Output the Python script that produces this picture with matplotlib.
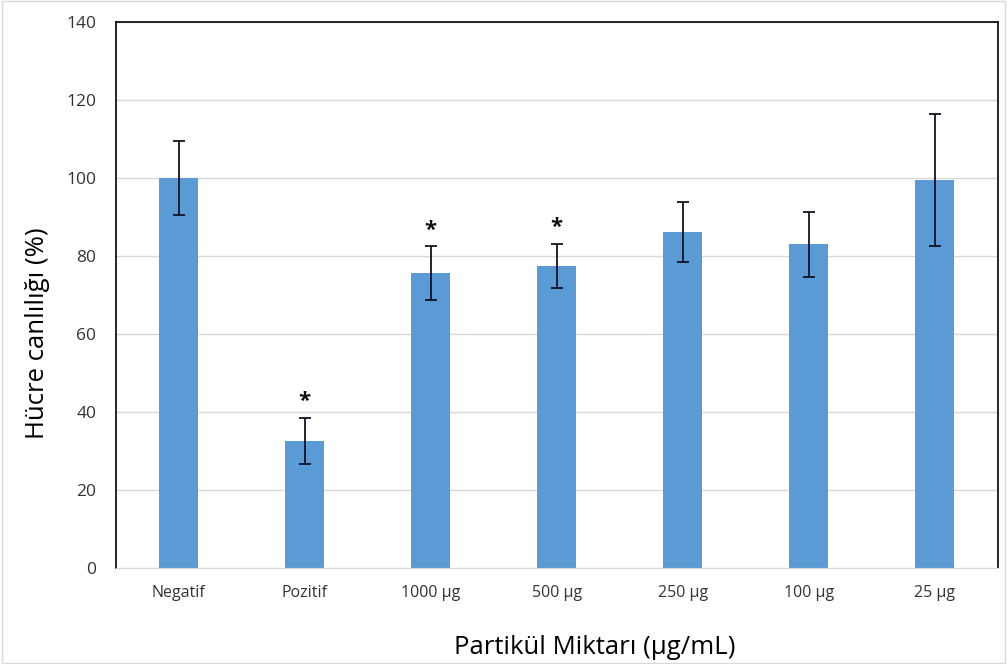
import matplotlib
matplotlib.use("Agg")
import matplotlib.pyplot as plt
from matplotlib.patches import Rectangle

categories = ["Negatif", "Pozitif", "1000 µg", "500 µg", "250 µg", "100 µg", "25 µg"]
viability = [100.0, 32.6, 75.6, 77.4, 86.1, 83.0, 99.5]
errors = [9.4, 5.9, 6.9, 5.7, 7.7, 8.4, 16.9]
significant = [False, True, True, True, False, False, False]

plt.rcParams["font.family"] = ["Open Sans", "DejaVu Sans"]

fig = plt.figure(figsize=(10.07, 6.64), dpi=100)
ax = fig.add_axes([0.115, 0.1446, 0.876, 0.822])

x = range(len(categories))
ax.bar(x, viability, width=0.31, color="#5B9BD5", zorder=2)
ax.errorbar(x, viability, yerr=errors, fmt="none", ecolor="#111122",
            elinewidth=1.3, capsize=4, capthick=1.3, zorder=3)

for i, sig in enumerate(significant):
    if sig:
        ax.text(i, viability[i] + errors[i] + 1.5, "*", ha="center", va="bottom",
                fontsize=16, fontweight="bold", color="#111111")

ax.set_xlim(-0.5, len(categories) - 0.5)
ax.set_ylim(0, 140)
ax.set_yticks(range(0, 141, 20))
ax.set_xticks(list(x))
ax.set_xticklabels(categories, fontsize=11.5, color="#333333")
ax.tick_params(axis="y", labelsize=12.5, length=0, pad=14, labelcolor="#333333")
ax.tick_params(axis="x", length=0, pad=12)
ax.yaxis.grid(True, color="#d9d9d9", linewidth=1, zorder=0)
ax.set_axisbelow(True)

for side in ("left", "top", "right"):
    ax.spines[side].set_color("black")
    ax.spines[side].set_linewidth(1.2)
ax.spines["bottom"].set_color("#d9d9d9")

ax.set_ylabel("Hücre canlılığı (%)", fontsize=18.5)
ax.yaxis.set_label_coords(-0.075, 0.43)
ax.set_xlabel("Partikül Miktarı (µg/mL)", fontsize=18.5)
ax.xaxis.set_label_coords(0.543, -0.122)

fig.patches.append(Rectangle((0.002, 0.002), 0.996, 0.996, transform=fig.transFigure,
                             fill=False, edgecolor="#d9d9d9", linewidth=1))

fig.savefig("out.png", dpi=100, facecolor="white")
